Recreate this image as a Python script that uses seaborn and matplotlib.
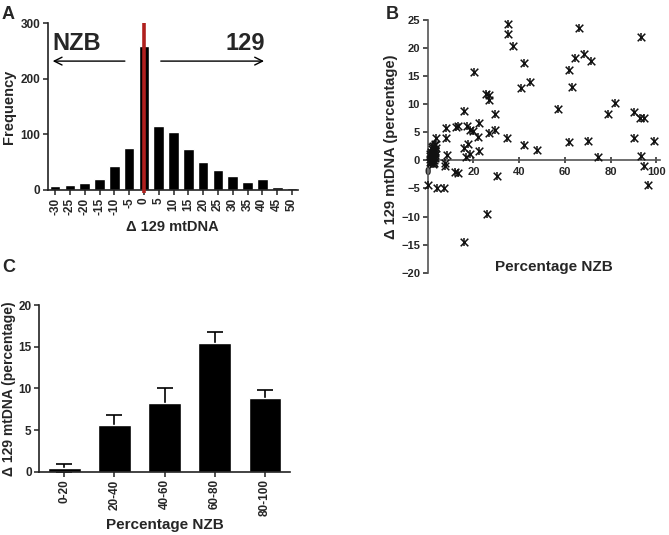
import matplotlib
matplotlib.use("Agg")
import matplotlib.pyplot as plt
import seaborn as sns
import pandas as pd

sns.set_theme(style="ticks")
plt.rcParams['font.family'] = ['Liberation Sans', 'DejaVu Sans']
plt.rcParams['font.weight'] = 'bold'

# ---------------- Data ----------------
# Panel A: histogram of delta 129 mtDNA
hist_bins = ["-30", "-25", "-20", "-15", "-10", "-5", "0", "5", "10", "15",
             "20", "25", "30", "35", "40", "45", "50"]
hist_freq = [7, 9, 13, 19, 43, 76, 260, 116, 104, 74, 50, 36, 25, 15, 19, 5, 4]

# Panel B: scatter of percentage NZB vs delta 129 mtDNA
scatter_x = [35.2, 35.2, 37.5, 66.1, 93.2, 20.1, 42.2, 41.0, 44.7, 61.8,
             64.5, 68.4, 71.3, 63.0, 25.6, 26.8, 26.8, 16.0, 29.6, 57.0,
             78.7, 81.9, 90.1, 93.0, 94.5, 13.3, 12.2, 8.1, 8.1, 22.6,
             17.3, 18.6, 19.6, 22.1, 26.8, 29.5, 34.8, 42.2, 47.9, 22.3,
             61.8, 15.7, 17.8, 18.3, 16.9, 3.6, 8.3, 7.4, 7.6, 11.9,
             13.2, 30.4, 0.0, 4.1, 7.3, 25.8, 15.9, 69.9, 74.4, 90.1,
             93.2, 94.6, 96.5, 98.8,
             0.8, 1.0, 1.2, 1.5, 1.5, 1.8, 2.0, 2.0, 2.2, 2.3,
             2.5, 2.5, 2.7, 2.8, 3.0, 3.0, 3.2, 3.3, 3.5, 1.3,
             1.7, 2.1, 2.6, 2.9, 3.1, 1.9, 2.4, 3.4, 1.1, 2.2]
scatter_y = [24.3, 22.5, 20.4, 23.6, 21.9, 15.7, 17.4, 12.9, 14.0, 16.1,
             18.2, 19.0, 17.7, 13.1, 11.9, 11.6, 10.7, 8.8, 8.3, 9.2,
             8.3, 10.3, 8.7, 7.6, 7.5, 6.2, 6.0, 5.7, 3.9, 6.7,
             6.1, 5.5, 5.3, 4.2, 4.9, 5.5, 3.9, 2.7, 1.9, 1.6,
             3.2, 2.2, 2.9, 1.2, 0.6, 4.0, 1.0, -0.5, -1.0, -2.1,
             -2.2, -2.8, -4.3, -4.9, -5.0, -9.5, -14.5, 3.4, 0.6, 3.9,
             0.7, -1.0, -4.3, 3.5,
             0.2, -0.3, 0.8, 1.5, -0.5, 0.3, 2.0, 1.0, -0.2, 0.6,
             2.5, 1.3, 0.0, 1.8, 0.9, 2.8, 0.4, 1.6, 2.2, -0.1,
             1.1, 0.5, -0.4, 0.7, 1.4, 2.4, 0.1, 3.0, 1.2, -0.6]

# Panel C: mean delta by NZB group with SEM
groups = ["0-20", "20-40", "40-60", "60-80", "80-100"]
group_mean = [0.4, 5.6, 8.3, 15.5, 8.8]
group_sem = [0.5, 1.2, 1.75, 1.25, 1.05]

# ---------------- Figure ----------------
fig = plt.figure(figsize=(6.69, 5.35), dpi=100)
axA = fig.add_axes([0.0713, 0.6449, 0.374, 0.3115])
axB = fig.add_axes([0.6393, 0.4903, 0.347, 0.4723])
axC = fig.add_axes([0.0587, 0.1183, 0.3748, 0.3116])

tick_kw = dict(labelsize=8.5, width=1.1, length=3.5, color='#222222')

# ----- Panel A -----
dfA = pd.DataFrame({"bin": hist_bins, "freq": hist_freq})
sns.barplot(data=dfA, x="bin", y="freq", color="black", saturation=1,
            width=0.72, ax=axA, order=hist_bins)
zero_idx = hist_bins.index("0")
axA.plot([zero_idx, zero_idx], [-5, 300], color="#b0201e", lw=2.6,
         clip_on=False, zorder=5, solid_capstyle='butt')
axA.set_ylim(0, 300)
axA.set_xlim(-0.5, len(hist_bins) - 0.6)
axA.set_yticks([0, 100, 200, 300])
axA.tick_params(axis='x', rotation=90, pad=2, **tick_kw)
axA.tick_params(axis='y', pad=2, **tick_kw)
for lab in axA.get_xticklabels() + axA.get_yticklabels():
    lab.set_fontweight('bold')
axA.set_xlabel("Δ 129 mtDNA", fontsize=10.5, fontweight='bold', labelpad=4)
axA.set_ylabel("Frequency", fontsize=10.5, fontweight='bold', labelpad=3)
sns.despine(ax=axA)
for s in ['left', 'bottom']:
    axA.spines[s].set_linewidth(1.2)
    axA.spines[s].set_color('#222222')
axA.annotate("", xy=(-0.35, 232), xytext=(4.9, 232),
             arrowprops=dict(arrowstyle="->", lw=1.0, color='black',
                             mutation_scale=14))
axA.annotate("", xy=(14.3, 232), xytext=(6.95, 232),
             arrowprops=dict(arrowstyle="->", lw=1.0, color='black',
                             mutation_scale=14))
axA.text(-0.2, 264, "NZB", fontsize=17, fontweight='bold', ha='left', va='center')
axA.text(14.2, 264, "129", fontsize=17, fontweight='bold', ha='right', va='center')

# ----- Panel B -----
dfB = pd.DataFrame({"nzb": scatter_x, "delta": scatter_y})
sns.scatterplot(data=dfB, x="nzb", y="delta", marker="x", s=30, color="#111111",
                linewidth=1.1, ax=axB, clip_on=False, zorder=4)
sns.scatterplot(data=dfB, x="nzb", y="delta", marker="|", s=30, color="#111111",
                linewidth=1.1, ax=axB, clip_on=False, zorder=4)
axB.set_xlim(0, 101.5)
axB.set_ylim(-20, 25)
axB.set_xticks([0, 20, 40, 60, 80, 100])
axB.set_yticks(list(range(-20, 30, 5)))
axB.spines['top'].set_visible(False)
axB.spines['right'].set_visible(False)
axB.spines['bottom'].set_position(('data', 0))
axB.spines['left'].set_position(('data', 0))
for s in ['left', 'bottom']:
    axB.spines[s].set_linewidth(1.2)
    axB.spines[s].set_color('#555555')
axB.tick_params(axis='both', labelsize=8, width=1.1, length=3.5, color='#222222', pad=2)
axB.tick_params(axis='x', direction='inout', length=5, pad=2)
for lab in axB.get_xticklabels() + axB.get_yticklabels():
    lab.set_fontweight('bold')
axB.set_xlabel("")
axB.set_ylabel("Δ 129 mtDNA (percentage)", fontsize=10.5, fontweight='bold', labelpad=2)
axB.text(55, -18.9, "Percentage NZB", fontsize=11, fontweight='bold',
         ha='center', va='center')

# ----- Panel C -----
dfC = pd.DataFrame({"group": groups, "mean": group_mean, "sem": group_sem})
sns.barplot(data=dfC, x="group", y="mean", color="black", saturation=1,
            width=0.65, ax=axC, order=groups, zorder=2)
axC.errorbar(range(len(groups)), dfC["mean"], yerr=dfC["sem"],
             fmt='none', ecolor='black', elinewidth=1.2, capsize=6, capthick=1.2,
             zorder=1)
axC.set_ylim(0, 20)
axC.set_xlim(-0.5, 4.5)
axC.set_yticks([0, 5, 10, 15, 20])
axC.tick_params(axis='x', rotation=90, pad=2, **tick_kw)
axC.tick_params(axis='y', pad=2, **tick_kw)
for lab in axC.get_xticklabels() + axC.get_yticklabels():
    lab.set_fontweight('bold')
axC.set_xlabel("Percentage NZB", fontsize=11, fontweight='bold', labelpad=1)
axC.set_ylabel("Δ 129 mtDNA (percentage)", fontsize=10, fontweight='bold', labelpad=2)
sns.despine(ax=axC)
for s in ['left', 'bottom']:
    axC.spines[s].set_linewidth(1.2)
    axC.spines[s].set_color('#222222')

# Panel letters
fig.text(0.002, 0.988, "A", fontsize=13, fontweight='bold', va='top', ha='left')
fig.text(0.577, 0.988, "B", fontsize=13, fontweight='bold', va='top', ha='left')
fig.text(0.004, 0.515, "C", fontsize=13, fontweight='bold', va='top', ha='left')

fig.savefig("out.png", dpi=100)
